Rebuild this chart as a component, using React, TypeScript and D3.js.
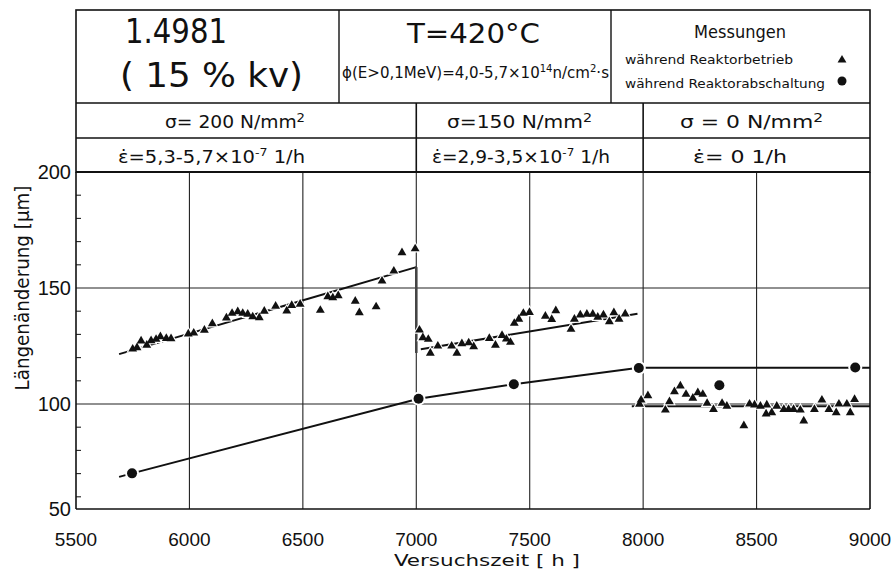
import React from "react";
import * as d3 from "d3";

// ---------- data ----------
const xTickValues = [5500, 6000, 6500, 7000, 7500, 8000, 8500, 9000];
const xGridValues = [6000, 6500, 7000, 7500, 8000, 8500];
const yTickValues = [50, 100, 150, 200];
const yGridValues = [100, 150];
const yMinorValues = [60, 70, 80, 90, 110, 120, 130, 140, 160, 170, 180, 190];

// Reactor operation, sigma = 200 N/mm2
const opTime200 = [5750, 5769, 5787, 5812, 5831, 5853, 5872, 5898, 5919, 5995, 6019, 6066, 6101, 6163, 6188, 6213, 6235, 6257, 6279, 6308, 6330, 6380, 6429, 6451, 6488, 6577, 6610, 6632, 6656, 6731, 6749, 6823, 6849, 6901, 6937, 6995];
const opLen200 = [123.7, 124.3, 127.2, 125.4, 127.3, 127.9, 129.0, 128.3, 128.2, 130.2, 130.6, 131.8, 134.6, 137.1, 139.1, 139.8, 139.1, 138.7, 137.6, 137.2, 140.0, 142.2, 140.1, 142.5, 143.0, 140.4, 146.3, 145.8, 146.7, 144.3, 139.4, 141.9, 153.0, 157.3, 165.2, 166.9];

// Reactor operation, sigma = 150 N/mm2
const opTime150 = [7014, 7029, 7053, 7062, 7095, 7156, 7179, 7201, 7231, 7253, 7322, 7349, 7378, 7397, 7415, 7432, 7452, 7472, 7499, 7569, 7597, 7615, 7682, 7697, 7723, 7752, 7778, 7800, 7825, 7851, 7871, 7894, 7921];
const opLen150 = [131.9, 128.6, 127.9, 121.9, 125.0, 125.0, 121.9, 126.0, 126.4, 124.7, 128.3, 125.4, 129.6, 128.0, 126.6, 134.8, 136.6, 139.1, 139.5, 137.9, 136.5, 140.2, 132.2, 136.6, 138.4, 138.7, 138.7, 137.4, 138.4, 135.5, 139.4, 136.6, 138.8];

// Reactor operation, sigma = 0
const opTime0 = [7984, 7991, 8021, 8098, 8116, 8138, 8164, 8189, 8219, 8241, 8263, 8282, 8310, 8348, 8369, 8444, 8469, 8491, 8517, 8545, 8542, 8567, 8589, 8620, 8641, 8663, 8693, 8708, 8755, 8788, 8819, 8851, 8863, 8898, 8913, 8932];
const opLen0 = [99.9, 101.7, 103.6, 97.4, 101.0, 105.3, 107.8, 104.2, 102.5, 104.9, 104.2, 100.3, 97.7, 100.3, 99.1, 90.7, 100.0, 99.6, 99.1, 99.6, 95.7, 96.3, 99.1, 97.7, 97.7, 97.7, 97.4, 92.7, 97.7, 101.7, 97.7, 96.3, 100.0, 100.0, 96.3, 102.0];

// Reactor shutdown measurements
const sdTime = [5747, 7010, 7430, 7981, 8336, 8935];
const sdLen = [70.1, 102.3, 108.5, 115.5, 108.1, 115.7];

// Fitted / connecting lines
const fit200Time = [5690, 7000];
const fit200Len = [121.5, 159];
const dropTime = [7000, 7000];
const dropLen = [159, 122];
const fit150Time = [7020, 7975];
const fit150Len = [123.6, 138.9];
const fit0Time = [7950, 9000];
const fit0Len = [99.0, 99.0];
const sdLineTime = [5690, 5747, 7010, 7430, 7981, 9000];
const sdLineLen = [68.6, 70.1, 102.3, 108.5, 115.6, 115.6];

// ---------- layout ----------
const W = 896;
const H = 571;
const L = 76;
const R = 870;
const T = 172;
const B = 509;
const HT = 10; // header top
const ROW1 = 103;
const ROW2 = 138;

const FONT = "'DejaVu Sans Condensed', 'Liberation Sans Narrow', 'Liberation Sans', sans-serif";
const NUMFONT = "'Liberation Sans', Arial, sans-serif";

export default function App() {
  const x = d3.scaleLinear().domain([5500, 9000]).range([L, R]);
  const y = d3.scaleLinear().domain([50, 200]).range([520, T]);
  const line = d3
    .line<[number, number]>()
    .x((d) => x(d[0]))
    .y((d) => y(d[1]));
  const pts = (t: number[], v: number[]) => t.map((d, i) => [d, v[i]] as [number, number]);
  const tri = d3.symbol().type(d3.symbolTriangle).size(34);
  const triHalo = d3.symbol().type(d3.symbolTriangle).size(70);

  const opAll = [
    ...pts(opTime200, opLen200),
    ...pts(opTime150, opLen150),
    ...pts(opTime0, opLen0),
  ];
  const sdPts = pts(sdTime, sdLen);
  const lines = [
    pts(fit200Time, fit200Len),
    pts(fit150Time, fit150Len),
    pts(fit0Time, fit0Len),
    pts(sdLineTime, sdLineLen),
  ];

  const x7000 = x(7000);
  const x8000 = x(8000);

  return (
    <svg
      width={W}
      height={H}
      style={{ position: "absolute", left: 0, top: 0, background: "#fff" }}
    >
      {/* header frame */}
      <g stroke="#111" fill="none">
        <rect x={L} y={HT} width={R - L} height={T - HT} strokeWidth={1.6} />
        <line x1={L} x2={R} y1={ROW1} y2={ROW1} strokeWidth={1.6} />
        <line x1={L} x2={R} y1={ROW2} y2={ROW2} strokeWidth={1.6} />
        <line x1={339} x2={339} y1={HT} y2={ROW1} strokeWidth={1.4} />
        <line x1={611} x2={611} y1={HT} y2={ROW1} strokeWidth={1.4} />
        <line x1={x7000} x2={x7000} y1={ROW1} y2={T} strokeWidth={1.6} />
        <line x1={x8000} x2={x8000} y1={ROW1} y2={T} strokeWidth={1.6} />
      </g>

      {/* header texts */}
      <g fill="#111" fontFamily={FONT}>
        <text x={125} y={43} fontSize={34} textLength={102} lengthAdjust="spacingAndGlyphs">
          1.4981
        </text>
        <text x={120} y={87} fontSize={34} textLength={183} lengthAdjust="spacingAndGlyphs">
          ( 15 % kv)
        </text>
        <text x={407} y={43} fontSize={27} textLength={133} lengthAdjust="spacingAndGlyphs">
          T=420°C
        </text>
        <text x={342} y={78} fontSize={15} textLength={267} lengthAdjust="spacingAndGlyphs">
          ϕ(E&gt;0,1MeV)=4,0-5,7×10
          <tspan dy={-6} fontSize={10}>14</tspan>
          <tspan dy={6}>n/cm</tspan>
          <tspan dy={-6} fontSize={10}>2</tspan>
          <tspan dy={6}>·s</tspan>
        </text>
        <text x={740} y={38} fontSize={18} textAnchor="middle">
          Messungen
        </text>
        <text x={625} y={64} fontSize={13} textLength={168} lengthAdjust="spacingAndGlyphs">
          während Reaktorbetrieb
        </text>
        <text x={625} y={88} fontSize={13} textLength={200} lengthAdjust="spacingAndGlyphs">
          während Reaktorabschaltung
        </text>

        <text x={165} y={128} fontSize={17} textLength={140} lengthAdjust="spacingAndGlyphs">
          σ= 200  N/mm<tspan dy={-6} fontSize={12}>2</tspan>
        </text>
        <text x={447} y={128} fontSize={17} textLength={145} lengthAdjust="spacingAndGlyphs">
          σ=150 N/mm<tspan dy={-6} fontSize={12}>2</tspan>
        </text>
        <text x={680} y={128} fontSize={17} textLength={143} lengthAdjust="spacingAndGlyphs">
          σ =  0  N/mm<tspan dy={-6} fontSize={12}>2</tspan>
        </text>

        <text x={118} y={163} fontSize={17} textLength={187} lengthAdjust="spacingAndGlyphs">
          ε̇=5,3-5,7×10<tspan dy={-7} fontSize={11}>-7</tspan>
          <tspan dy={7}>  1/h</tspan>
        </text>
        <text x={432} y={163} fontSize={17} textLength={178} lengthAdjust="spacingAndGlyphs">
          ε̇=2,9-3,5×10<tspan dy={-7} fontSize={11}>-7</tspan>
          <tspan dy={7}> 1/h</tspan>
        </text>
        <text x={693} y={163} fontSize={17} textLength={94} lengthAdjust="spacingAndGlyphs">
          ε̇=  0   1/h
        </text>
      </g>
      {/* legend markers */}
      <path d={tri() || ""} transform="translate(842,60)" fill="#111" />
      <circle cx={842} cy={81} r={4.5} fill="#111" />

      {/* plot grid */}
      <g stroke="#222" strokeWidth={1.1}>
        {xGridValues.map((v) => (
          <line key={"gx" + v} x1={x(v)} x2={x(v)} y1={T} y2={B} />
        ))}
        {yGridValues.map((v) => (
          <line key={"gy" + v} x1={L} x2={R} y1={y(v)} y2={y(v)} />
        ))}
        {yMinorValues.map((v) => (
          <line key={"my" + v} x1={L} x2={L + 5} y1={y(v)} y2={y(v)} />
        ))}
      </g>
      {/* plot frame */}
      <g stroke="#111" fill="none">
        <line x1={L} x2={L} y1={T} y2={B} strokeWidth={1.6} />
        <line x1={R} x2={R} y1={T} y2={B} strokeWidth={1.6} />
        <line x1={L} x2={R} y1={B} y2={B} strokeWidth={1.6} />
        <line x1={L} x2={R} y1={T} y2={T} strokeWidth={2.2} />
      </g>

      {/* data lines */}
      <g stroke="#111" fill="none" strokeWidth={2}>
        {lines.map((p, i) => (
          <path key={"l" + i} d={line(p) || ""} />
        ))}
        <path d={line(pts(dropTime, dropLen)) || ""} strokeWidth={2.6} stroke="#444" />
      </g>

      {/* markers */}
      <g>
        {opAll.map((d, i) => (
          <path
            key={"th" + i}
            d={triHalo() || ""}
            transform={`translate(${x(d[0])},${y(d[1])})`}
            fill="#fff"
          />
        ))}
        {opAll.map((d, i) => (
          <path
            key={"t" + i}
            d={tri() || ""}
            transform={`translate(${x(d[0])},${y(d[1])})`}
            fill="#111"
          />
        ))}
        {sdPts.map((d, i) => (
          <circle key={"ch" + i} cx={x(d[0])} cy={y(d[1])} r={7} fill="#fff" />
        ))}
        {sdPts.map((d, i) => (
          <circle key={"c" + i} cx={x(d[0])} cy={y(d[1])} r={5} fill="#111" />
        ))}
      </g>

      {/* tick labels */}
      <g fill="#111" fontFamily={NUMFONT}>
        {xTickValues.map((v) => (
          <text key={"xt" + v} x={x(v)} y={546} fontSize={19} textAnchor="middle">
            {v}
          </text>
        ))}
        {yTickValues.map((v) => (
          <text key={"yt" + v} x={71} y={Math.min(y(v), B) + 7} fontSize={20} textAnchor="end">
            {v}
          </text>
        ))}
      </g>

      {/* axis titles */}
      <g fill="#111" fontFamily={FONT}>
        <text x={(L + R) / 2 + 14} y={566} fontSize={16} textAnchor="middle" textLength={186} lengthAdjust="spacingAndGlyphs">
          Versuchszeit [ h ]
        </text>
        <text
          transform={`translate(29,${y(150)}) rotate(-90)`}
          fontSize={19}
          textAnchor="middle"
          textLength={205}
          lengthAdjust="spacingAndGlyphs"
        >
          Längenänderung [µm]
        </text>
      </g>
    </svg>
  );
}
